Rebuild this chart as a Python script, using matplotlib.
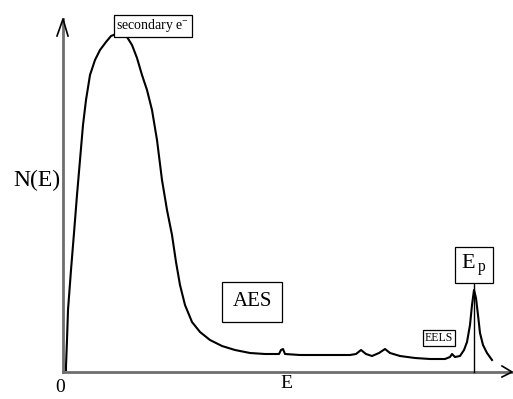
import numpy as np
import matplotlib.pyplot as plt

plt.rcParams['mathtext.fontset'] = 'custom'
plt.rcParams['mathtext.rm'] = 'Liberation Serif'
plt.rcParams['mathtext.it'] = 'Liberation Serif:italic'

# N(E) electron energy distribution (schematic, arbitrary units)
energy = [3, 3, 4, 5, 8, 11, 14, 17, 20, 23, 27, 32, 37, 43, 48, 53, 59, 64, 69, 74, 79,
          84, 89, 94, 99, 104, 109, 113, 117, 122, 129, 137, 147, 159, 172, 187, 202,
          216, 218, 220, 222, 237, 267, 287, 293, 298, 303, 309, 316, 322, 327, 337,
          352, 367, 382, 387, 389, 392, 397, 401, 404, 407, 409, 411, 413, 415, 417,
          420, 424, 429]
counts = [2, 6, 32, 62, 102, 139, 177, 212, 247, 272, 297, 312, 322, 330, 336, 338, 338,
          335, 327, 314, 297, 282, 262, 232, 192, 162, 137, 110, 87, 67, 50, 40, 32, 26,
          22, 19, 18, 18, 22, 23, 18, 17, 17, 17, 18, 22, 18, 16, 19, 23, 19, 16, 14,
          13, 13, 15, 18, 15, 16, 22, 30, 47, 67, 82, 74, 57, 39, 27, 19, 12]
E_p = 411

fig = plt.figure(figsize=(5.13, 3.99), dpi=100)
ax = fig.add_axes([0, 0, 1, 1])
ax.set_xlim(-63, 450)
ax.set_ylim(-27, 372)
ax.axis('off')

axcol = '#6e6e6e'
# axes with open arrow heads
ax.plot([0, 0], [0, 353], color=axcol, lw=2)
ax.plot([-6, 0, 5], [336, 353, 336], color='black', lw=1.2)
ax.plot([0, 449], [0, 0], color=axcol, lw=2)
ax.plot([439, 449, 439], [6, 0, -5], color='black', lw=1.2)

ax.plot(energy, counts, color='black', lw=1.5)
ax.plot([E_p, E_p], [0, 94], color='black', lw=1)

serif = 'Liberation Serif'
ax.text(-26, 192, 'N(E)', fontsize=17, family=serif, ha='center', va='center')
ax.text(-3, -16, '0', fontsize=14, family=serif, ha='center', va='center')
ax.text(223, -11, 'E', fontsize=14, family=serif, ha='center', va='center')

box = dict(boxstyle='square,pad=0.2', fc='white', ec='black', lw=0.9)
ax.text(90, 346, 'secondary e$^{-}$', fontsize=10, family=serif, ha='center',
        va='center', bbox=box)
ax.text(189, 70, 'AES', fontsize=15, family=serif, ha='center', va='center',
        bbox=dict(boxstyle='square,pad=0.5', fc='white', ec='black', lw=0.9))
ax.text(376, 34, 'EELS', fontsize=8.5, family=serif, ha='center', va='center',
        bbox=dict(boxstyle='square,pad=0.15', fc='white', ec='black', lw=0.9))
ax.text(411, 107, r'E$_{\;\mathrm{p}}$', fontsize=16, family=serif, ha='center',
        va='center', bbox=dict(boxstyle='square,pad=0.25', fc='white', ec='black', lw=0.9))

fig.savefig('out.png', dpi=100)
